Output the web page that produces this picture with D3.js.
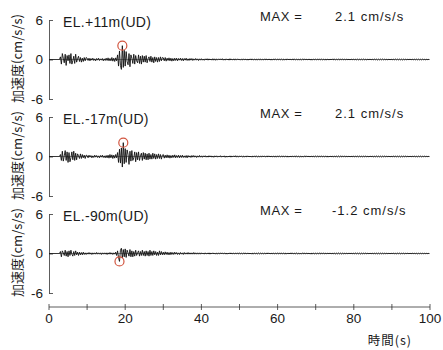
<!DOCTYPE html>
<html><head><meta charset="utf-8">
<script src="https://cdn.jsdelivr.net/npm/d3@7"></script>
<style>
html,body{margin:0;padding:0;background:#fff;}
svg{display:block;}
text{font-family:"Liberation Sans",Arial,sans-serif;fill:#1a1a1a;}
.cjk{font-family:"Noto Sans CJK JP","Liberation Sans",sans-serif;}
</style></head><body>
<script>
// ---- data (acceleration, cm/s/s), sampled every 0.25 s from 0 to 100 s ----
const dt = 0.25;
const panelLabels = ["EL.+11m(UD)", "EL.-17m(UD)", "EL.-90m(UD)"];
const maxLabels = ["2.1 cm/s/s", "2.1 cm/s/s", "-1.2 cm/s/s"];
const xTicks = [0,10,20,30,40,50,60,70,80,90,100];
const xTickLabels = [0,20,40,60,80,100];
const yTicks = [6,0,-6];

const accEL11 = [
0,0,0,0,0,0,0,0,0,0,0,0,0.4,-0.7,0.9,0.2,-0.5,0.8,-0.9,0.6,
-0.2,0.7,-0.6,0.9,-0.7,-0.2,0.5,-0.6,0.8,-0.4,0.1,0.5,-0.3,0.3,-0.4,0.2,-0.3,0.3,-0.2,0.3,
0.2,-0.15,0.2,-0.2,0.15,-0.1,0.2,-0.15,0.1,-0.2,0.15,-0.1,0.2,-0.15,0.1,-0.1,0.15,-0.2,0.1,-0.15,
0.2,-0.15,0.25,-0.2,0.15,-0.2,0.3,-0.25,0.2,-0.3,0.25,-0.2,0.7,-1.0,1.3,-0.9,-1.5,2.1,-1.2,1.4,
-1.0,1.2,-0.3,-0.8,0.9,-1.1,0.7,0.2,-0.6,0.8,-0.7,0.6,-0.2,-0.5,0.7,-0.6,0.5,-0.7,0.6,-0.4,
0.5,-0.4,0.6,-0.5,0.1,0.4,-0.3,0.5,-0.4,0.3,-0.5,0.4,-0.3,0.3,-0.4,0.3,-0.3,0.4,-0.2,0.3,
0.25,-0.2,0.3,-0.25,0.2,-0.15,0.25,-0.2,0.2,-0.25,0.15,-0.2,0.2,-0.15,0.2,-0.2,0.15,-0.1,0.2,-0.15,
0.15,-0.2,0.15,-0.1,0.2,-0.15,0.1,-0.15,0.15,-0.1,0.15,-0.15,0.1,-0.1,0.15,-0.1,0.1,-0.15,0.1,-0.1,
0.12,-0.1,0.08,-0.12,0.1,-0.08,0.12,-0.1,0.1,-0.08,0.08,-0.1,0.12,-0.1,0.1,-0.12,0.08,-0.06,0.1,-0.08,
0.1,-0.08,0.12,-0.1,0.08,-0.1,0.1,-0.06,0.08,-0.1,0.12,-0.08,0.06,-0.08,0.1,-0.1,0.08,-0.06,0.1,-0.08,
0.08,-0.1,0.06,-0.08,0.1,-0.06,0.08,-0.08,0.06,-0.1,0.08,-0.06,0.1,-0.08,0.06,-0.06,0.08,-0.1,0.06,-0.08,
0.1,-0.06,0.08,-0.1,0.06,-0.08,0.08,-0.06,0.1,-0.08,0.06,-0.06,0.08,-0.1,0.06,-0.08,0.1,-0.06,0.06,-0.08,
0.08,-0.06,0.1,-0.08,0.06,-0.06,0.08,-0.1,0.06,-0.08,0.1,-0.06,0.08,-0.06,0.06,-0.08,0.1,-0.08,0.06,-0.06,
0.08,-0.08,0.06,-0.1,0.08,-0.06,0.06,-0.08,0.1,-0.06,0.08,-0.08,0.06,-0.06,0.08,-0.1,0.06,-0.06,0.08,-0.08,
0.06,-0.08,0.08,-0.06,0.1,-0.08,0.06,-0.06,0.08,-0.08,0.06,-0.1,0.08,-0.06,0.06,-0.08,0.08,-0.06,0.1,-0.08,
0.06,-0.06,0.08,-0.08,0.06,-0.08,0.1,-0.06,0.06,-0.08,0.08,-0.06,0.06,-0.06,0.08,-0.08,0.06,-0.06,0.08,-0.06,
0.06,-0.08,0.08,-0.06,0.06,-0.06,0.08,-0.08,0.06,-0.06,0.08,-0.06,0.06,-0.08,0.06,-0.06,0.08,-0.06,0.06,-0.06,
0.06,-0.06,0.08,-0.06,0.06,-0.08,0.06,-0.06,0.06,-0.06,0.08,-0.06,0.06,-0.06,0.06,-0.08,0.06,-0.06,0.06,-0.06,
0.06,-0.06,0.06,-0.06,0.08,-0.06,0.06,-0.06,0.06,-0.06,0.06,-0.08,0.06,-0.06,0.06,-0.06,0.06,-0.06,0.08,-0.06,
0.06,-0.06,0.06,-0.06,0.06,-0.06,0.06,-0.06,0.06,-0.06,0.04,-0.06,0.06,-0.04,0.04,-0.06,0.04,-0.04,0.04,-0.04
];

const accEL17 = [
0,0,0,0,0,0,0,0,0,0,0,0,0.3,-0.6,0.8,-0.7,0.1,0.9,-0.6,0.7,
-0.9,0.6,-0.8,-0.2,0.7,-0.5,0.8,-0.6,0.5,-0.5,0.4,0.1,-0.3,0.4,-0.3,0.3,-0.2,0.2,-0.3,0.2,
0.15,-0.2,0.2,-0.1,0.15,-0.2,0.1,-0.15,0.2,-0.1,0.15,-0.15,0.1,-0.2,0.15,-0.1,0.2,-0.15,0.1,-0.2,
0.15,-0.2,0.2,-0.25,0.3,-0.2,0.25,-0.3,0.2,-0.25,0.3,-0.2,0.6,-0.9,1.1,-1.0,1.3,-1.6,2.1,-1.1,
1.2,-0.9,1.0,0.3,-1.2,0.8,-0.7,0.9,-0.6,-0.2,0.7,-0.8,0.6,-0.5,0.7,-0.6,0.1,0.5,-0.6,0.6,
-0.4,0.5,-0.5,0.4,-0.5,0.5,-0.4,0.3,-0.4,0.5,-0.3,0.4,-0.4,0.3,-0.3,0.4,-0.3,0.3,-0.4,0.2,
0.3,-0.25,0.2,-0.2,0.25,-0.2,0.2,-0.25,0.15,-0.2,0.2,-0.15,0.25,-0.2,0.15,-0.15,0.2,-0.2,0.15,-0.15,
0.2,-0.15,0.1,-0.15,0.15,-0.2,0.15,-0.1,0.1,-0.15,0.15,-0.1,0.15,-0.1,0.1,-0.15,0.1,-0.1,0.15,-0.1,
0.1,-0.12,0.1,-0.08,0.12,-0.1,0.08,-0.1,0.12,-0.08,0.1,-0.1,0.08,-0.12,0.1,-0.08,0.1,-0.1,0.08,-0.08,
0.12,-0.1,0.08,-0.08,0.1,-0.12,0.08,-0.1,0.06,-0.08,0.1,-0.1,0.08,-0.06,0.1,-0.08,0.12,-0.1,0.06,-0.08,
0.1,-0.08,0.08,-0.06,0.08,-0.1,0.06,-0.08,0.1,-0.06,0.08,-0.08,0.06,-0.1,0.08,-0.06,0.1,-0.08,0.06,-0.06,
0.08,-0.1,0.06,-0.06,0.1,-0.08,0.08,-0.06,0.06,-0.08,0.1,-0.06,0.08,-0.08,0.06,-0.06,0.08,-0.1,0.06,-0.08,
0.1,-0.06,0.06,-0.08,0.08,-0.06,0.1,-0.08,0.06,-0.06,0.08,-0.1,0.06,-0.08,0.08,-0.06,0.06,-0.06,0.1,-0.08,
0.06,-0.08,0.08,-0.06,0.06,-0.1,0.08,-0.08,0.06,-0.06,0.1,-0.06,0.08,-0.08,0.06,-0.06,0.08,-0.08,0.06,-0.06,
0.08,-0.06,0.06,-0.08,0.1,-0.06,0.06,-0.08,0.08,-0.06,0.06,-0.06,0.08,-0.1,0.06,-0.06,0.08,-0.08,0.06,-0.06,
0.08,-0.08,0.06,-0.06,0.08,-0.06,0.06,-0.08,0.1,-0.06,0.06,-0.06,0.08,-0.08,0.06,-0.06,0.06,-0.08,0.08,-0.06,
0.06,-0.06,0.08,-0.08,0.06,-0.06,0.06,-0.08,0.08,-0.06,0.06,-0.06,0.08,-0.06,0.06,-0.08,0.06,-0.06,0.08,-0.06,
0.06,-0.08,0.06,-0.06,0.08,-0.06,0.06,-0.06,0.06,-0.08,0.06,-0.06,0.08,-0.06,0.06,-0.06,0.06,-0.06,0.06,-0.08,
0.06,-0.06,0.08,-0.06,0.06,-0.06,0.06,-0.06,0.06,-0.08,0.06,-0.06,0.06,-0.06,0.08,-0.06,0.06,-0.06,0.06,-0.06,
0.06,-0.06,0.06,-0.04,0.06,-0.06,0.04,-0.06,0.06,-0.04,0.06,-0.06,0.04,-0.04,0.06,-0.04,0.04,-0.04,0.04,-0.04
];

const accEL90 = [
0,0,0,0,0,0,0,0,0,0,0,0,0.3,-0.5,0.4,0.1,-0.3,0.5,-0.4,0.3,
-0.5,0.4,-0.3,0.5,-0.1,-0.4,0.3,-0.3,0.4,-0.2,0.2,-0.3,0.2,-0.2,0.15,-0.2,0.2,-0.15,0.1,-0.15,
0.1,-0.1,0.15,-0.1,0.1,-0.15,0.1,-0.1,0.1,-0.1,0.15,-0.1,0.1,-0.1,0.1,-0.15,0.1,-0.1,0.1,-0.1,
0.1,-0.15,0.1,-0.1,0.15,-0.1,0.1,-0.15,0.1,-0.1,0.2,-0.3,0.4,-0.6,-1.2,0.5,0.8,-0.7,0.6,-0.5,
0.7,-0.6,0.5,0.1,-0.4,0.6,-0.5,0.4,-0.5,0.3,-0.4,0.5,-0.3,0.1,0.4,-0.4,0.3,-0.3,0.5,-0.3,
0.3,-0.4,0.4,-0.3,0.3,-0.4,0.5,-0.3,0.3,-0.3,0.4,-0.2,0.3,-0.3,0.2,-0.3,0.4,-0.2,0.3,-0.2,
0.2,-0.2,0.25,-0.15,0.2,-0.2,0.15,-0.2,0.2,-0.15,0.15,-0.15,0.2,-0.1,0.15,-0.15,0.1,-0.15,0.15,-0.1,
0.1,-0.15,0.15,-0.1,0.1,-0.1,0.15,-0.1,0.1,-0.1,0.1,-0.1,0.15,-0.1,0.1,-0.1,0.1,-0.1,0.1,-0.1,
0.1,-0.08,0.08,-0.1,0.1,-0.08,0.06,-0.08,0.1,-0.1,0.08,-0.06,0.1,-0.08,0.08,-0.1,0.06,-0.08,0.1,-0.06,
0.08,-0.08,0.1,-0.06,0.06,-0.08,0.08,-0.1,0.06,-0.06,0.1,-0.08,0.08,-0.06,0.06,-0.08,0.08,-0.06,0.1,-0.08,
0.06,-0.08,0.08,-0.06,0.06,-0.06,0.1,-0.08,0.06,-0.06,0.08,-0.08,0.06,-0.1,0.08,-0.06,0.06,-0.08,0.08,-0.06,
0.08,-0.06,0.06,-0.08,0.08,-0.06,0.06,-0.06,0.08,-0.08,0.1,-0.06,0.06,-0.08,0.08,-0.06,0.06,-0.06,0.08,-0.08,
0.06,-0.08,0.1,-0.06,0.08,-0.08,0.06,-0.06,0.08,-0.1,0.06,-0.06,0.08,-0.08,0.1,-0.06,0.06,-0.08,0.08,-0.06,
0.08,-0.06,0.06,-0.1,0.08,-0.08,0.06,-0.06,0.1,-0.08,0.06,-0.06,0.08,-0.08,0.06,-0.1,0.08,-0.06,0.06,-0.08,
0.06,-0.06,0.08,-0.08,0.06,-0.08,0.1,-0.06,0.06,-0.06,0.08,-0.08,0.06,-0.06,0.08,-0.06,0.06,-0.08,0.08,-0.06,
0.06,-0.08,0.06,-0.06,0.08,-0.06,0.06,-0.08,0.06,-0.06,0.08,-0.08,0.06,-0.06,0.06,-0.06,0.08,-0.06,0.06,-0.06,
0.06,-0.06,0.08,-0.06,0.06,-0.06,0.06,-0.08,0.06,-0.06,0.06,-0.06,0.08,-0.06,0.06,-0.06,0.06,-0.06,0.06,-0.06,
0.06,-0.06,0.06,-0.06,0.06,-0.06,0.06,-0.06,0.06,-0.06,0.06,-0.06,0.06,-0.06,0.06,-0.06,0.06,-0.06,0.06,-0.06,
0.06,-0.04,0.06,-0.06,0.04,-0.06,0.06,-0.04,0.06,-0.06,0.04,-0.04,0.06,-0.06,0.04,-0.04,0.06,-0.04,0.04,-0.04,
0.04,-0.04,0.06,-0.04,0.04,-0.04,0.04,-0.06,0.04,-0.04,0.04,-0.04,0.04,-0.04,0.04,-0.04,0.04,-0.04,0.04,-0.04
];
const series = [accEL11, accEL17, accEL90];

// ---- layout ----
const W = 443, H = 350;
const left = 49, right = 430;
const panelTops = [20, 117, 214];
const panelH = 79;
const xAxisY = 307;

const svg = d3.select("body").append("svg").attr("width", W).attr("height", H);
svg.append("rect").attr("width", W).attr("height", H).attr("fill", "#fff");

const x = d3.scaleLinear().domain([0, 100]).range([left, right]);

series.forEach((vals, i) => {
  const top = panelTops[i];
  const y = d3.scaleLinear().domain([-6, 6]).range([top + panelH, top]);
  const g = svg.append("g");

  // y axis (ticks pointing inward)
  const yAxis = d3.axisLeft(y).tickValues(yTicks).tickSizeInner(-4).tickSizeOuter(0)
    .tickPadding(6).tickFormat(d => String(d));
  const ga = g.append("g").attr("transform", `translate(${left},0)`).call(yAxis);
  ga.select(".domain").attr("stroke", "#333").attr("stroke-width", 0.8);
  ga.selectAll(".tick line").attr("stroke", "#333").attr("stroke-width", 0.8);
  ga.selectAll(".tick text").attr("font-size", 13.5).attr("fill", "#1a1a1a")
    .style("font-family", '"Liberation Sans",Arial,sans-serif');

  // zero baseline
  g.append("line").attr("x1", x(0)).attr("x2", x(100)).attr("y1", y(0)).attr("y2", y(0))
    .attr("stroke", "#555").attr("stroke-width", 0.6);

  // waveform
  const line = d3.line().x((d, k) => x(k * dt)).y(d => y(d));
  g.append("path").datum(vals).attr("d", line).attr("fill", "none")
    .attr("stroke", "#111").attr("stroke-width", 0.9).attr("stroke-linejoin", "round");

  // peak marker
  let pk = 0;
  vals.forEach((v, k) => { if (Math.abs(v) > Math.abs(vals[pk])) pk = k; });
  g.append("circle").attr("cx", x(pk * dt)).attr("cy", y(vals[pk])).attr("r", 4.5)
    .attr("fill", "none").attr("stroke", "#d2553f").attr("stroke-width", 1.2);

  // labels
  g.append("text").attr("x", 63).attr("y", top + 7).attr("font-size", 14)
    .attr("letter-spacing", 0.3).text(panelLabels[i]);
  g.append("text").attr("x", 260).attr("y", top + 1).attr("font-size", 13)
    .attr("letter-spacing", 0.6).text("MAX =");
  g.append("text").attr("x", i === 2 ? 332 : 335).attr("y", top + 1).attr("font-size", 13)
    .attr("letter-spacing", 1).text(maxLabels[i]);

  // y title
  g.append("text").attr("class", "cjk")
    .attr("transform", `translate(22,${y(0) - 1}) rotate(-90)`)
    .attr("text-anchor", "middle").attr("font-size", 13).text("加速度(cm/s/s)");
});

// x axis
const gx = svg.append("g");
gx.append("line").attr("x1", x(0)).attr("x2", x(100)).attr("y1", xAxisY).attr("y2", xAxisY)
  .attr("stroke", "#333").attr("stroke-width", 0.8);
gx.selectAll("line.tk").data(xTicks).join("line").attr("class", "tk")
  .attr("x1", d => x(d)).attr("x2", d => x(d)).attr("y1", xAxisY - 3).attr("y2", xAxisY + 3)
  .attr("stroke", "#333").attr("stroke-width", 0.8);
gx.selectAll("text.tl").data(xTickLabels).join("text").attr("class", "tl")
  .attr("x", d => x(d)).attr("y", xAxisY + 16).attr("text-anchor", "middle")
  .attr("font-size", 13.5).text(d => d);
svg.append("text").attr("class", "cjk").attr("x", 412).attr("y", 345)
  .attr("text-anchor", "end").attr("font-size", 12.5).attr("letter-spacing", 1).text("時間(s)");
</script>
</body></html>
